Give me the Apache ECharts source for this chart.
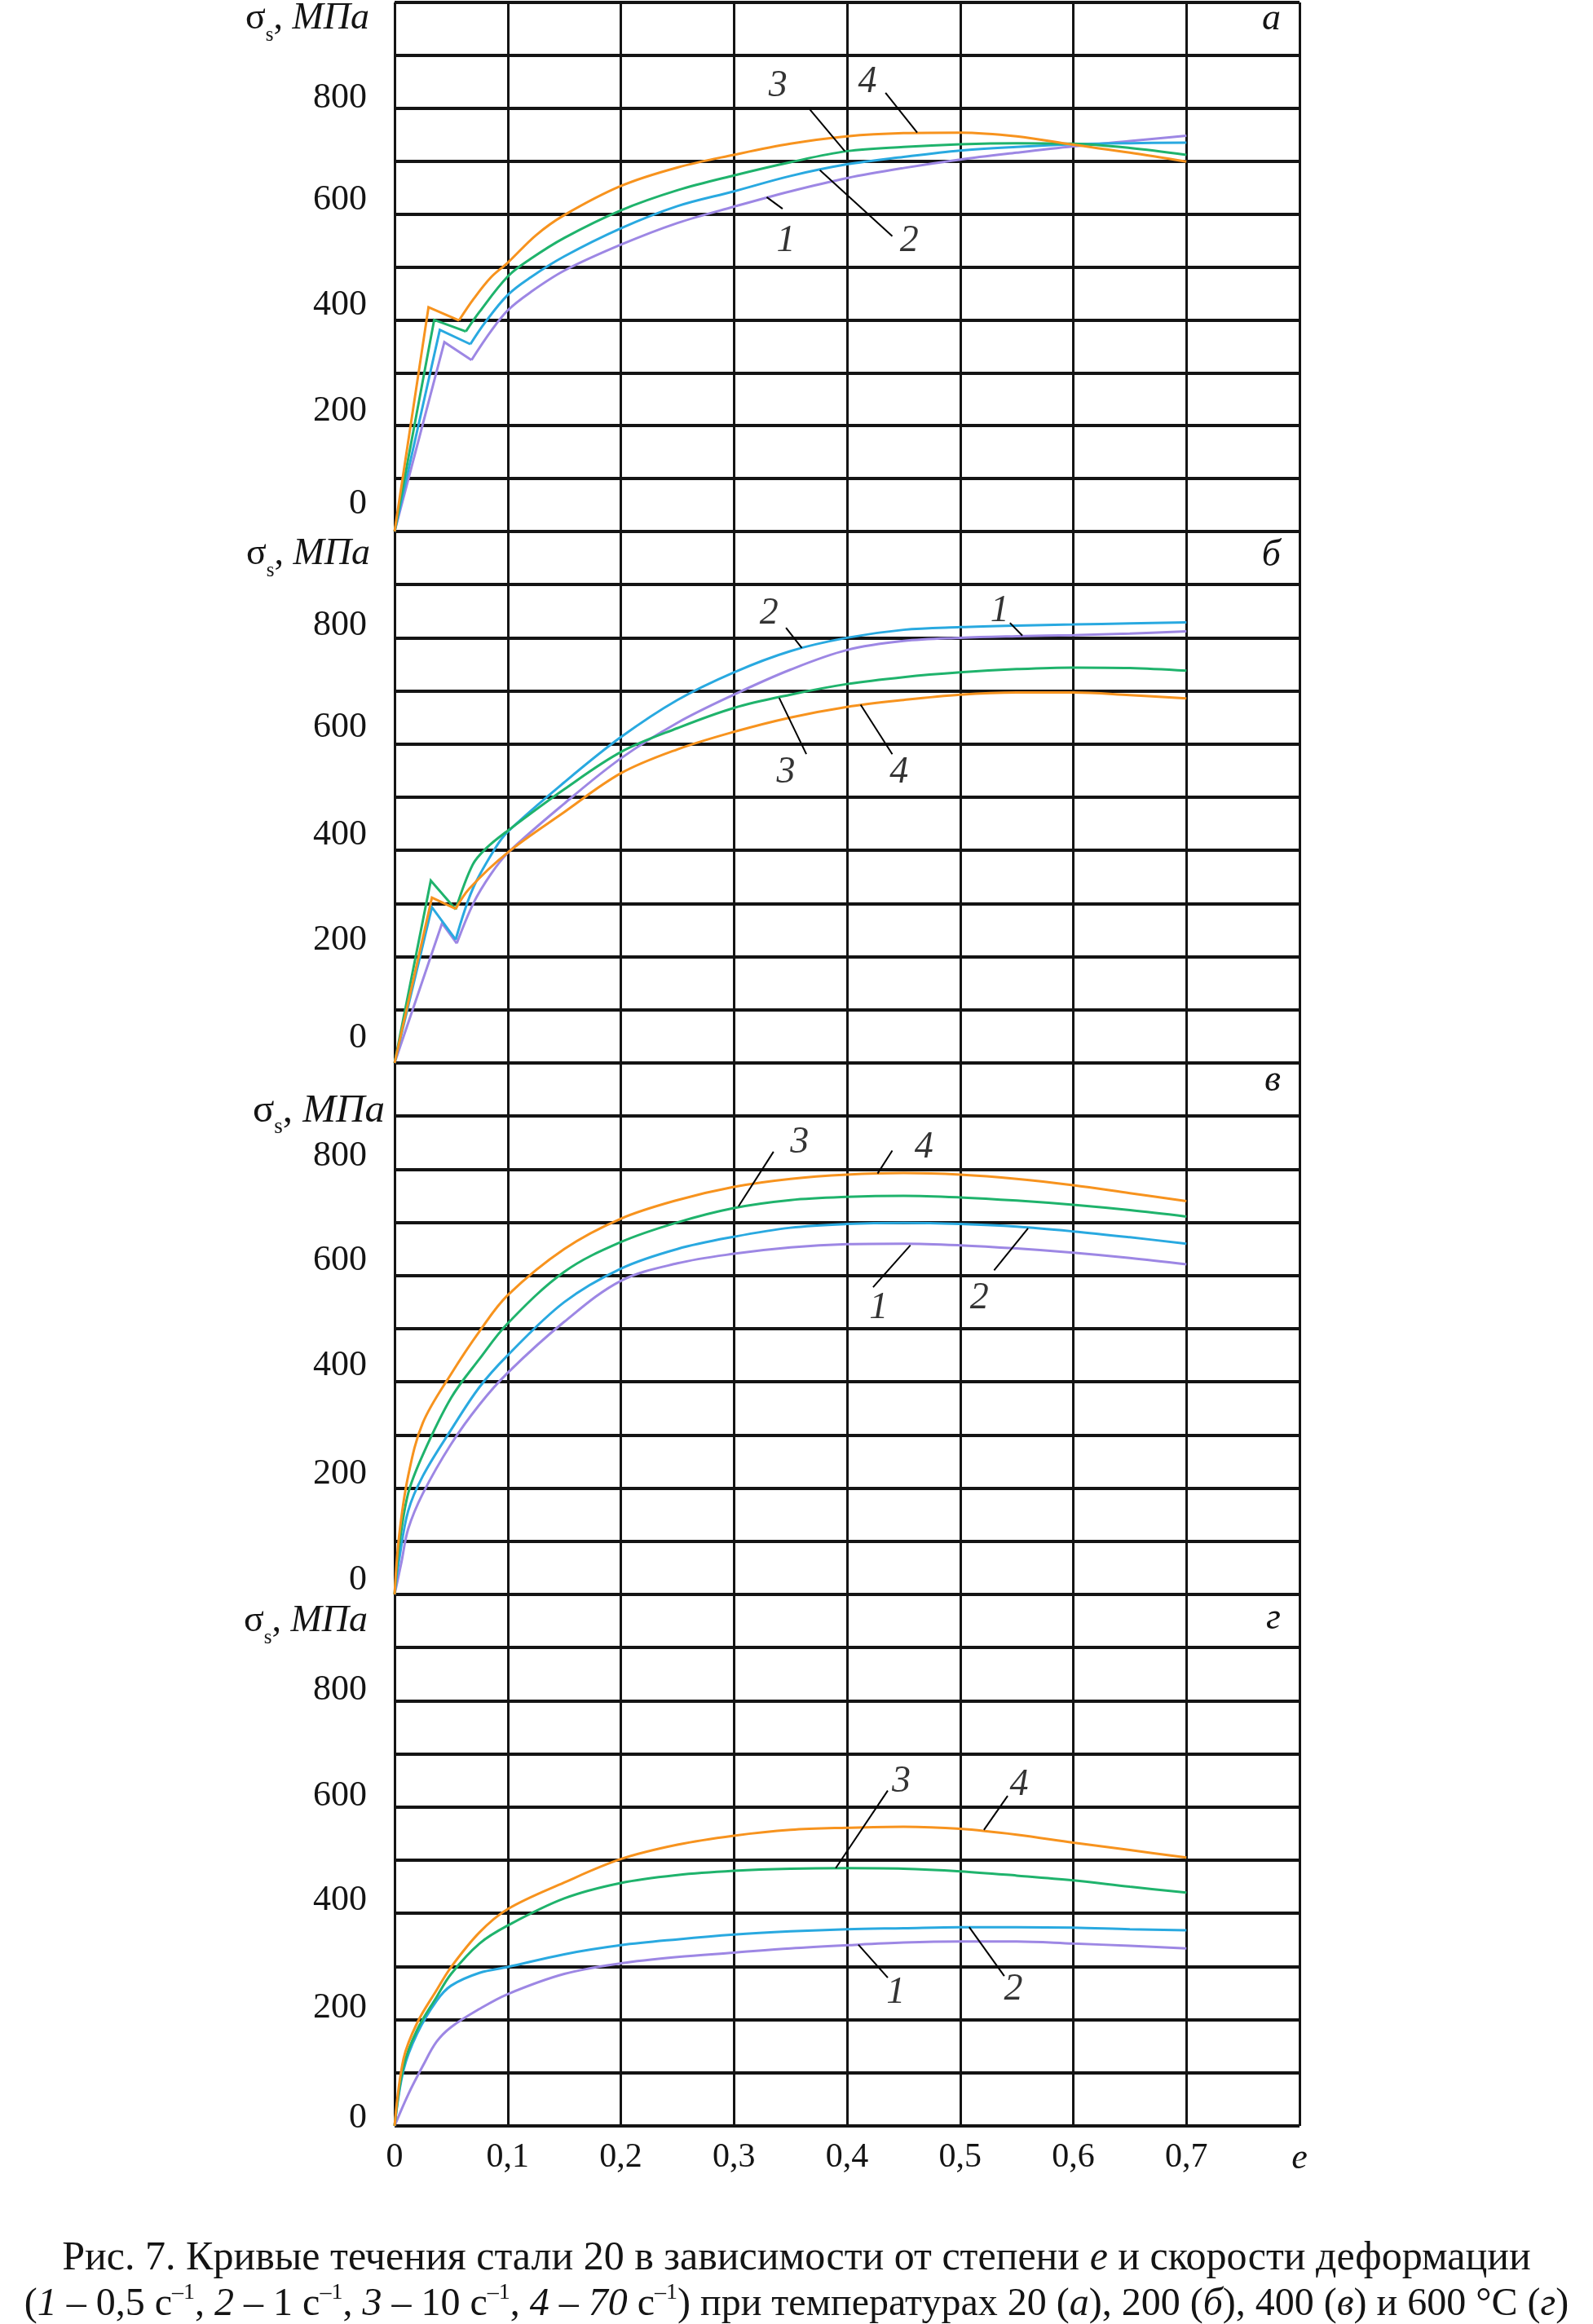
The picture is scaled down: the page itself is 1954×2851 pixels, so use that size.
<!DOCTYPE html>
<html>
<head>
<meta charset="utf-8">
<script src="https://cdn.jsdelivr.net/npm/echarts/dist/echarts.min.js"></script>
<style>
html,body{margin:0;padding:0;background:#fff;}
#c{width:1954px;height:2851px;}
</style>
</head>
<body>
<div id="c"></div>
<script>
// ---------- axis ticks ----------
const strainTicks = [0, 0.1, 0.2, 0.3, 0.4, 0.5, 0.6, 0.7, 0.8];
const stressLabels = [0, 200, 400, 600, 800];
const panelLetters = ['а', 'б', 'в', 'г'];
const curveNames = ['1', '2', '3', '4'];

// ---------- panel а (20 °C): [e, σs] ----------
const t20_1s = [[0,0],[0.044,358],[0.068,324]];
const t20_1  = [[0.068,324],[0.085,378],[0.1,418],[0.12,452],[0.15,493],[0.2,542],[0.25,583],[0.3,614],[0.35,643],[0.4,668],[0.45,687],[0.5,703],[0.55,716],[0.6,728],[0.65,738],[0.7,748]];
const t20_2s = [[0,0],[0.040,381],[0.067,354]];
const t20_2  = [[0.067,354],[0.08,395],[0.1,447],[0.12,480],[0.15,520],[0.2,573],[0.25,615],[0.3,643],[0.35,672],[0.4,694],[0.45,708],[0.5,720],[0.55,727],[0.6,732],[0.65,734],[0.7,735]];
const t20_3s = [[0,0],[0.035,400],[0.063,378]];
const t20_3  = [[0.063,378],[0.075,415],[0.1,482],[0.12,515],[0.15,555],[0.2,607],[0.25,645],[0.3,673],[0.35,698],[0.4,719],[0.45,727],[0.5,732],[0.55,734],[0.6,733],[0.65,725],[0.7,712]];
const t20_4s = [[0,0],[0.030,424],[0.057,399]];
const t20_4  = [[0.057,399],[0.07,440],[0.085,480],[0.1,508],[0.125,560],[0.15,598],[0.2,653],[0.25,688],[0.3,712],[0.35,733],[0.4,747],[0.45,753],[0.5,754],[0.55,747],[0.6,731],[0.65,716],[0.7,699]];

// ---------- panel б (200 °C) ----------
const t200_1s = [[0,0],[0.042,263],[0.055,225]];
const t200_1  = [[0.055,225],[0.07,302],[0.085,355],[0.1,395],[0.15,488],[0.2,573],[0.25,640],[0.3,693],[0.35,740],[0.4,777],[0.45,794],[0.5,800],[0.55,803],[0.6,805],[0.65,808],[0.7,812]];
const t200_2s = [[0,0],[0.033,293],[0.054,232]];
const t200_2  = [[0.054,232],[0.069,327],[0.089,404],[0.1,435],[0.15,528],[0.2,613],[0.25,683],[0.3,735],[0.35,775],[0.4,800],[0.45,815],[0.5,820],[0.55,823],[0.6,825],[0.65,827],[0.7,829]];
const t200_3s = [[0,0],[0.032,343],[0.054,289]];
const t200_3  = [[0.054,289],[0.069,373],[0.081,404],[0.1,437],[0.15,515],[0.2,585],[0.25,630],[0.3,668],[0.35,693],[0.4,713],[0.45,726],[0.5,735],[0.55,741],[0.6,744],[0.65,743],[0.7,738]];
const t200_4s = [[0,0],[0.033,311],[0.054,290]];
const t200_4  = [[0.054,290],[0.066,328],[0.1,396],[0.15,472],[0.2,545],[0.25,590],[0.3,623],[0.35,650],[0.4,670],[0.45,683],[0.5,693],[0.55,697],[0.6,697],[0.65,692],[0.7,686]];

// ---------- panel в (400 °C) ----------
const t400_1 = [[0,0],[0.006,60],[0.012,123],[0.025,190],[0.05,283],[0.075,357],[0.1,417],[0.15,513],[0.2,590],[0.25,623],[0.3,641],[0.35,653],[0.4,659],[0.45,660],[0.5,657],[0.55,651],[0.6,643],[0.65,633],[0.7,621]];
const t400_2 = [[0,0],[0.004,65],[0.012,157],[0.025,223],[0.05,310],[0.075,390],[0.1,450],[0.15,550],[0.2,613],[0.25,650],[0.3,673],[0.35,690],[0.4,697],[0.45,699],[0.5,697],[0.55,692],[0.6,683],[0.65,672],[0.7,660]];
const t400_3 = [[0,0],[0.004,90],[0.012,190],[0.025,263],[0.05,370],[0.075,443],[0.1,510],[0.15,607],[0.2,663],[0.25,700],[0.3,727],[0.35,742],[0.4,748],[0.45,750],[0.5,747],[0.55,741],[0.6,733],[0.65,723],[0.7,711]];
const t400_4 = [[0,0],[0.004,110],[0.012,223],[0.025,323],[0.05,415],[0.075,495],[0.1,563],[0.15,650],[0.2,707],[0.25,742],[0.3,767],[0.35,782],[0.4,790],[0.45,793],[0.5,790],[0.55,782],[0.6,770],[0.65,755],[0.7,740]];

// ---------- panel г (600 °C) ----------
const t600_1 = [[0,0],[0.012,59],[0.025,113],[0.037,158],[0.05,186],[0.075,220],[0.1,248],[0.15,286],[0.2,306],[0.25,318],[0.3,326],[0.35,334],[0.4,340],[0.45,345],[0.5,347],[0.55,347],[0.6,343],[0.65,339],[0.7,334]];
const t600_2 = [[0,0],[0.008,106],[0.02,174],[0.037,235],[0.05,264],[0.075,288],[0.1,299],[0.15,323],[0.2,340],[0.25,351],[0.3,360],[0.35,366],[0.4,370],[0.45,372],[0.5,374],[0.55,374],[0.6,373],[0.65,370],[0.7,368]];
const t600_3 = [[0,0],[0.008,113],[0.02,181],[0.037,242],[0.05,286],[0.075,343],[0.1,377],[0.15,428],[0.2,457],[0.25,472],[0.3,480],[0.35,484],[0.4,485],[0.45,484],[0.5,479],[0.55,471],[0.6,462],[0.65,450],[0.7,439]];
const t600_4 = [[0,0],[0.008,127],[0.02,194],[0.037,255],[0.05,299],[0.075,364],[0.1,408],[0.15,458],[0.2,502],[0.25,529],[0.3,546],[0.35,557],[0.4,561],[0.45,563],[0.5,559],[0.55,548],[0.6,533],[0.65,519],[0.7,505]];

// ---------- curve-number labels [e, σs, text] and their leader lines ----------
const lab20  = [[0.339,842,'3'],[0.418,849,'4'],[0.346,548,'1'],[0.455,548,'2']];
const lead20 = [[[0.367,798],[0.398,719]],[[0.434,829],[0.462,754]],[[0.343,610],[0.329,632]],[[0.440,558],[0.376,683]]];
const lab200  = [[0.331,845,'2'],[0.535,850,'1'],[0.346,546,'3'],[0.446,546,'4']];
const lead200 = [[[0.346,819],[0.360,781]],[[0.544,828],[0.555,804]],[[0.364,581],[0.340,687]],[[0.440,581],[0.412,674]]];
const lab400  = [[0.358,850,'3'],[0.468,841,'4'],[0.428,538,'1'],[0.517,557,'2']];
const lead400 = [[[0.335,833],[0.304,730]],[[0.440,835],[0.427,792]],[[0.423,578],[0.456,657]],[[0.530,610],[0.560,689]]];
const lab600  = [[0.448,648,'3'],[0.552,642,'4'],[0.443,250,'1'],[0.547,256,'2']];
const lead600 = [[[0.436,631],[0.390,485]],[[0.542,621],[0.521,557]],[[0.436,279],[0.410,341]],[[0.539,282],[0.508,374]]];

// ---------- styling ----------
const FONT = '"Liberation Serif","Times New Roman",serif';
const COL = ['#9D87E4', '#29A9E0', '#1FB36C', '#F7931E'];
const INK = '#141414';

const panels = [
  { spikes: [t20_1s, t20_2s, t20_3s, t20_4s], curves: [t20_1, t20_2, t20_3, t20_4], labs: lab20, leads: lead20,
    lift: [34, 18, 18, 17, 12], nameGap: -20, namePad: 31, nameSize: 46 },
  { spikes: [t200_1s, t200_2s, t200_3s, t200_4s], curves: [t200_1, t200_2, t200_3, t200_4], labs: lab200, leads: lead200,
    lift: [31, 20, 19, 20, 15], nameGap: -28, namePad: 30, nameSize: 46 },
  { spikes: null, curves: [t400_1, t400_2, t400_3, t400_4], labs: lab400, leads: lead400,
    lift: [18, 17, 20, 18, 16], nameGap: -68, namePad: 12, nameSize: 49 },
  { spikes: null, curves: [t600_1, t600_2, t600_3, t600_4], labs: lab600, leads: lead600,
    lift: [10, 14, 16, 13, 13], nameGap: -33, namePad: 33, nameSize: 46 }
];

const PANEL_H = 652, LEFT = 484, WIDTH = 1110;

const grids = [], xAxes = [], yAxes = [], series = [], titles = [];

panels.forEach((p, i) => {
  grids.push({ left: LEFT, width: WIDTH, top: i * PANEL_H, height: PANEL_H, containLabel: false });
  const last = i === panels.length - 1;
  xAxes.push({
    type: 'value', gridIndex: i, min: 0, max: 0.8, interval: 0.1,
    axisLine: { show: false }, axisTick: { show: false },
    splitLine: { show: true, lineStyle: { color: INK, width: 3 } },
    axisLabel: {
      show: last, margin: 18, fontFamily: FONT, fontSize: 42, color: INK,
      formatter: v => Math.abs(v - 0.8) < 1e-9 ? '{e|e}' : (v === 0 ? '0' : v.toFixed(1).replace('.', ',')),
      rich: { e: { fontFamily: FONT, fontSize: 44, fontStyle: 'italic', color: INK } }
    }
  });
  const rich = {};
  stressLabels.forEach((s, k) => {
    rich['l' + k] = { fontFamily: FONT, fontSize: 44, color: INK, padding: [0, 0, 2 * p.lift[k], 0] };
  });
  const ns = p.nameSize;
  rich.g = { fontFamily: FONT, fontSize: ns, color: INK, lineHeight: 66, verticalAlign: 'middle' };
  rich.s = { fontFamily: FONT, fontSize: Math.round(ns * 0.55), color: INK, lineHeight: 28, verticalAlign: 'bottom' };
  rich.i = { fontFamily: FONT, fontSize: ns, fontStyle: 'italic', color: INK, lineHeight: 66, verticalAlign: 'middle' };
  yAxes.push({
    type: 'value', gridIndex: i, min: 0, max: 1000, interval: 100,
    axisLine: { show: false }, axisTick: { show: false },
    splitLine: { show: true, lineStyle: { color: INK, width: 4 } },
    name: '{g|σ}{s|s}{g|, }{i|МПа}',
    nameLocation: 'end', nameGap: p.nameGap,
    nameTextStyle: { align: 'right', verticalAlign: 'middle', padding: [0, p.namePad, 0, 0], rich: rich },
    axisLabel: {
      margin: 34, fontFamily: FONT, fontSize: 44, color: INK,
      formatter: v => { const k = stressLabels.indexOf(v); return k < 0 ? '' : '{l' + k + '|' + v + '}'; },
      rich: rich
    }
  });
  // curves
  for (let c = 0; c < 4; c++) {
    if (p.spikes) {
      series.push({ type: 'line', xAxisIndex: i, yAxisIndex: i, data: p.spikes[c], showSymbol: false, smooth: false,
        lineStyle: { color: COL[c], width: 3, join: 'miter' }, z: 3 + c, silent: true });
    }
    series.push({ type: 'line', xAxisIndex: i, yAxisIndex: i, data: p.curves[c], showSymbol: false,
      smooth: 0.35, lineStyle: { color: COL[c], width: 3 }, z: 3 + c, silent: true });
  }
  // leader lines
  series.push({ type: 'lines', coordinateSystem: 'cartesian2d', xAxisIndex: i, yAxisIndex: i,
    data: p.leads.map(l => ({ coords: l })), lineStyle: { color: '#000', width: 2, opacity: 1 }, z: 10, silent: true });
  // number labels
  series.push({ type: 'scatter', xAxisIndex: i, yAxisIndex: i, data: p.labs, symbolSize: 1,
    itemStyle: { color: 'rgba(0,0,0,0)' }, z: 11, silent: true,
    label: { show: true, position: 'inside', formatter: d => d.data[2], fontFamily: FONT, fontSize: 46,
      fontStyle: 'italic', color: '#000' } });
  // panel letter
  titles.push({ text: panelLetters[i], right: 1954 - LEFT - WIDTH + 18, top: i * PANEL_H + (i === 0 ? -4 : (i === 2 ? -6 : 2)),
    textStyle: { fontFamily: FONT, fontSize: 46, fontStyle: 'italic', fontWeight: 'normal', color: INK } });
});

// caption
const capRich = {
  n: { fontFamily: FONT, fontSize: 50, color: INK, lineHeight: 56 },
  i: { fontFamily: FONT, fontSize: 50, fontStyle: 'italic', color: INK, lineHeight: 56 },
  m: { fontFamily: FONT, fontSize: 48, color: INK, lineHeight: 56 },
  k: { fontFamily: FONT, fontSize: 48, fontStyle: 'italic', color: INK, lineHeight: 56 },
  p: { fontFamily: FONT, fontSize: 28, color: INK, lineHeight: 27, verticalAlign: 'top' }
};
titles.push({
  left: 'center', top: 2738,
  text: '{n|Рис. 7. Кривые течения стали 20 в зависимости от степени }{i|e}{n| и скорости деформации}\n' +
        '{m|(}{k|1}{m| – 0,5 с}{p|–1}{m|, }{k|2}{m| – 1 с}{p|–1}{m|, }{k|3}{m| – 10 с}{p|–1}{m|, }{k|4 – 70}{m| с}{p|–1}' +
        '{m|) при температурах 20 (}{k|а}{m|), 200 (}{k|б}{m|), 400 (}{k|в}{m|) и 600 °С (}{k|г}{m|)}',
  textStyle: { rich: capRich, fontFamily: FONT, fontSize: 50, color: INK, fontWeight: 'normal' }
});

const chart = echarts.init(document.getElementById('c'), null, { renderer: 'canvas' });
chart.setOption({
  animation: false,
  backgroundColor: '#ffffff',
  title: titles,
  grid: grids,
  xAxis: xAxes,
  yAxis: yAxes,
  series: series
});
</script>
</body>
</html>
